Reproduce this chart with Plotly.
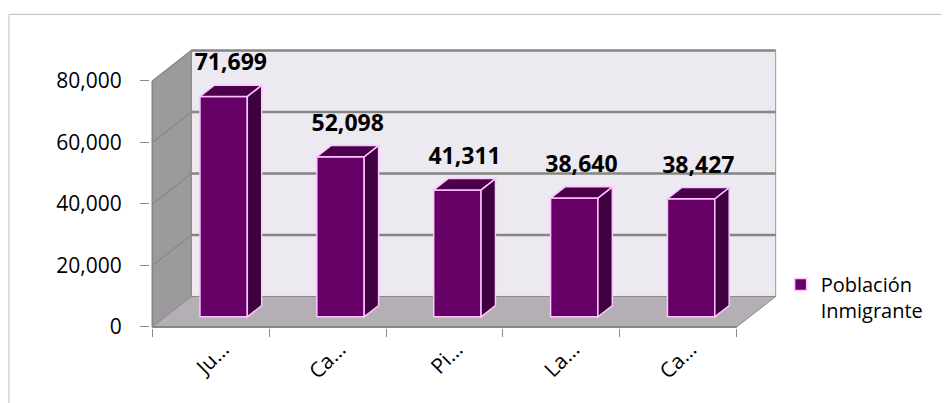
import plotly.graph_objects as go

# ---------------- data ----------------
categories = ["Ju…", "Ca…", "Pi…", "La…", "Ca…"]
values = [71699, 52098, 41311, 38640, 38427]
series_name = "Población<br>Inmigrante"
y_tick_values = [0, 20000, 40000, 60000, 80000]
y_tick_labels = ["0", "20,000", "40,000", "60,000", "80,000"]
value_labels = [f"{v:,}" for v in values]

# ---------------- geometry (style) ----------------
OFF = 8                # page body margin of the html page
W, H = 949 - OFF, 403 - OFF
X0_PX = 152.0 - OFF    # pixel of front x = -0.5
CAT_PX = 117.0         # pixels per category
Y0_PX = 327.0 - OFF    # pixel of front y = 0
PX_PER_VAL = 246.3 / 80000.0
YMAX_AX = 80000

DX = 39.0 / CAT_PX             # depth offset, x units
DY = 30.5 / PX_PER_VAL         # depth offset, value units
FRONT = 0.33                   # bar front position in depth
BD = 0.37                      # bar depth fraction
BAR_W = 0.405
LABEL_GAP = 9.0 / PX_PER_VAL   # data label lift

n = len(categories)
xmin, xmax = -0.52, n - 0.5 + DX + 0.02
ymin, ymax = -350, YMAX_AX + DY + 500

ml = X0_PX - (-0.5 - xmin) * CAT_PX
pw = (xmax - xmin) * CAT_PX
mr = W - ml - pw
ph = (ymax - ymin) * PX_PER_VAL
mb = H - (Y0_PX + (0 - ymin) * PX_PER_VAL)
mt = H - mb - ph


def px_x(p):
    return (p - OFF - ml) / pw


def px_y(p):
    return (H - mb - (p - OFF)) / ph


BAR_FRONT = "#660066"
BAR_SIDE = "#3e003e"
BAR_TOP = "#4c004c"
EDGE = "#ffc4ff"
BACK = "#ece9f0"
SIDE_WALL = "#9c9a9d"
FLOOR = "#b3afb4"
GRID = "#858585"
FONT = "Open Sans"

shapes = []
# outer chart border
shapes.append(dict(type="rect", xref="paper", yref="paper",
                   x0=px_x(8.5), x1=px_x(970), y0=px_y(430), y1=px_y(14),
                   line=dict(color="#bdbdbd", width=1), layer="below"))
# back wall
xl, xr = -0.5, n - 0.5
shapes.append(dict(type="rect", xref="x", yref="y", x0=xl + DX, x1=xr + DX,
                   y0=DY, y1=YMAX_AX + DY, fillcolor=BACK,
                   line=dict(color="#9a9a9a", width=1), layer="below"))
# left side wall
shapes.append(dict(type="path", xref="x", yref="y", layer="below",
                   path=f"M{xl},0 L{xl},{YMAX_AX} L{xl + DX},{YMAX_AX + DY} L{xl + DX},{DY} Z",
                   fillcolor=SIDE_WALL, line=dict(color="#8a8a8a", width=1)))
# floor
shapes.append(dict(type="path", xref="x", yref="y", layer="below",
                   path=f"M{xl},0 L{xr},0 L{xr + DX},{DY} L{xl + DX},{DY} Z",
                   fillcolor=FLOOR, line=dict(color="#8a8a8a", width=1)))
# gridlines on back wall and left wall
for v in y_tick_values[1:]:
    shapes.append(dict(type="line", xref="x", yref="y", layer="below",
                       x0=xl + DX, x1=xr + DX, y0=v + DY, y1=v + DY,
                       line=dict(color=GRID, width=2.5)))
    shapes.append(dict(type="line", xref="x", yref="y", layer="below",
                       x0=xl, x1=xl + DX, y0=v, y1=v + DY,
                       line=dict(color="#888888", width=1.2)))
# floor front edge and y axis line
shapes.append(dict(type="line", xref="x", yref="y", layer="below",
                   x0=xl, x1=xr, y0=0, y1=0, line=dict(color="#868686", width=2)))
shapes.append(dict(type="line", xref="x", yref="y", layer="below",
                   x0=xl, x1=xl, y0=0, y1=YMAX_AX, line=dict(color="#868686", width=1.5)))

# bar side and top faces
base = FRONT * DY
bx, by = BD * DX, BD * DY
bar_x = [i + FRONT * DX for i in range(n)]
for cx, v in zip(bar_x, values):
    x0, x1 = cx - BAR_W / 2, cx + BAR_W / 2
    top = base + v
    shapes.append(dict(type="path", xref="x", yref="y", layer="above",
                       path=f"M{x1},{base} L{x1 + bx},{base + by} L{x1 + bx},{top + by} L{x1},{top} Z",
                       fillcolor=BAR_SIDE, line=dict(color=EDGE, width=1.5)))
    shapes.append(dict(type="path", xref="x", yref="y", layer="above",
                       path=f"M{x0},{top} L{x1},{top} L{x1 + bx},{top + by} L{x0 + bx},{top + by} Z",
                       fillcolor=BAR_TOP, line=dict(color=EDGE, width=1.5)))

fig = go.Figure()
fig.add_trace(go.Bar(
    x=bar_x, y=values, base=base, width=BAR_W, name=series_name,
    marker=dict(color=BAR_FRONT, line=dict(color=EDGE, width=1.5)),
    showlegend=True, hoverinfo="skip"))
fig.add_trace(go.Scatter(
    x=[cx + bx / 2 for cx in bar_x], y=[base + v + by + LABEL_GAP for v in values],
    mode="text", text=value_labels, textposition="top center",
    textfont=dict(family=FONT, size=23, color="#000000", weight="bold"),
    showlegend=False, hoverinfo="skip"))

fig.update_layout(
    width=W, height=H,
    margin=dict(l=ml, r=mr, t=mt, b=mb, pad=0, autoexpand=False),
    paper_bgcolor="white", plot_bgcolor="white",
    font=dict(family=FONT, color="#000000"),
    shapes=shapes,
    showlegend=True,
    legend=dict(x=px_x(781), y=px_y(265), xanchor="left", yanchor="top",
                font=dict(family=FONT, size=20, color="#000000"),
                valign="top", bgcolor="rgba(0,0,0,0)", itemwidth=30),
    xaxis=dict(range=[xmin, xmax], tickmode="array",
               tickvals=list(range(n)), ticktext=categories,
               tickangle=-45, ticks="", showgrid=False, zeroline=False,
               showline=False, automargin=False,
               tickfont=dict(family=FONT, size=21, color="#000000"),
               ticklabelshift=12, ticklabelstandoff=4,
               minor=dict(tickmode="array", tickvals=[i - 0.5 for i in range(n + 1)],
                          ticks="outside", ticklen=8, tickwidth=1,
                          tickcolor="#8a8a8a", showgrid=False)),
    yaxis=dict(range=[ymin, ymax], tickmode="array",
               tickvals=y_tick_values, ticktext=y_tick_labels,
               ticks="outside", ticklen=9, tickwidth=1, tickcolor="#8a8a8a",
               showgrid=False, zeroline=False, showline=False, automargin=False,
               ticklabelstandoff=14,
               tickfont=dict(family=FONT, size=21, color="#000000")),
)

fig.write_html("out.html")
